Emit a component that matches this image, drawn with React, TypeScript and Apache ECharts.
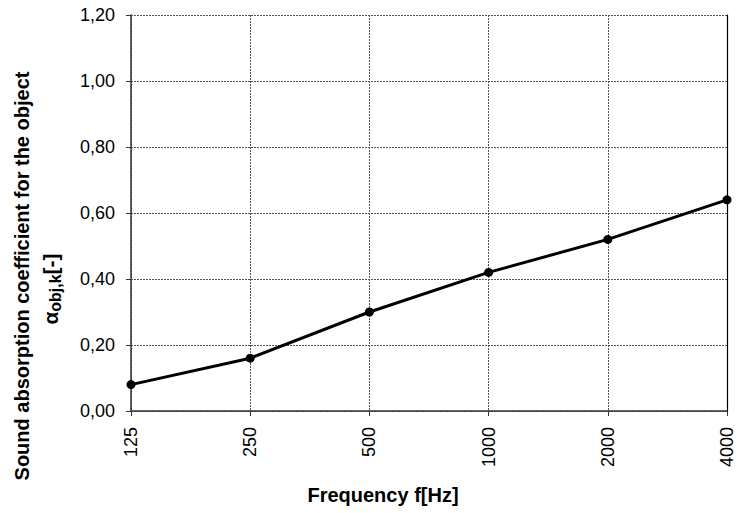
import React, { useEffect, useRef } from "react";
import * as echarts from "echarts";

const categories = ["125", "250", "500", "1000", "2000", "4000"];
const values = [0.08, 0.16, 0.3, 0.42, 0.52, 0.64];
const yMin = 0;
const yMax = 1.2;
const yInterval = 0.2;
const xTitle = "Frequency f[Hz]";
const yTitleLine1 = "Sound absorption coefficient for the object";

const FONT = "'Liberation Sans', Arial, sans-serif";

export default function App() {
  const ref = useRef<HTMLDivElement>(null);
  useEffect(() => {
    if (!ref.current) return;
    const chart = echarts.init(ref.current, null, { renderer: "svg" });
    const axisColor = "#333";
    chart.setOption({
      animation: false,
      backgroundColor: "#ffffff",
      grid: { left: 131, right: 10, top: 15, bottom: 102, containLabel: false },
      xAxis: {
        type: "category",
        data: categories,
        boundaryGap: false,
        axisLine: { show: true, lineStyle: { color: axisColor, width: 1.5 } },
        axisTick: { show: true, length: 5, lineStyle: { color: axisColor } },
        axisLabel: { rotate: 90, fontSize: 18, color: "#000", margin: 16, fontFamily: FONT },
        splitLine: { show: true, lineStyle: { type: [2, 1], color: "#555", width: 1 } },
      },
      yAxis: [
        {
          type: "value",
          min: yMin,
          max: yMax,
          interval: yInterval,
          axisLine: { show: true, lineStyle: { color: axisColor, width: 1.5 } },
          axisTick: { show: true, length: 5, lineStyle: { color: axisColor } },
          axisLabel: {
            fontSize: 18,
            color: "#000",
            margin: 16,
            fontFamily: FONT,
            formatter: (v: number) => v.toFixed(2).replace(".", ","),
          },
          splitLine: { show: true, lineStyle: { type: [2, 1], color: "#555", width: 1 } },
        },
        {
          type: "value",
          position: "right",
          min: yMin,
          max: yMax,
          interval: yInterval,
          axisLine: { show: true, lineStyle: { color: "#000", width: 1.2 } },
          axisTick: { show: false },
          axisLabel: { show: false },
          splitLine: { show: false },
        },
      ],
      series: [
        {
          type: "line",
          data: values,
          yAxisIndex: 0,
          symbol: "circle",
          symbolSize: 9,
          itemStyle: { color: "#000" },
          lineStyle: { color: "#000", width: 3 },
        },
      ],
      graphic: [
        {
          type: "text",
          x: 383,
          y: 495,
          style: {
            text: xTitle,
            font: `bold 20px ${FONT}`,
            fill: "#000",
            textAlign: "center",
            textVerticalAlign: "middle",
          },
        },
        {
          type: "text",
          x: 22,
          y: 276,
          rotation: Math.PI / 2,
          style: {
            text: yTitleLine1,
            font: `bold 20px ${FONT}`,
            fill: "#000",
            textAlign: "center",
            textVerticalAlign: "middle",
          },
        },
        {
          type: "text",
          x: 50,
          y: 289,
          rotation: Math.PI / 2,
          style: {
            text: "{a|α}{s|obj,k}{a|[-]}",
            fill: "#000",
            textAlign: "center",
            textVerticalAlign: "middle",
            rich: {
              a: { font: `bold 21px ${FONT}`, fill: "#000", verticalAlign: "middle" },
              s: { font: `bold 16px ${FONT}`, fill: "#000", padding: [10, 0, 0, 0] },
            },
          },
        },
      ],
    });
    return () => chart.dispose();
  }, []);
  return <div ref={ref} style={{ width: 737, height: 513, position: "absolute", left: 0, top: 0 }} />;
}
